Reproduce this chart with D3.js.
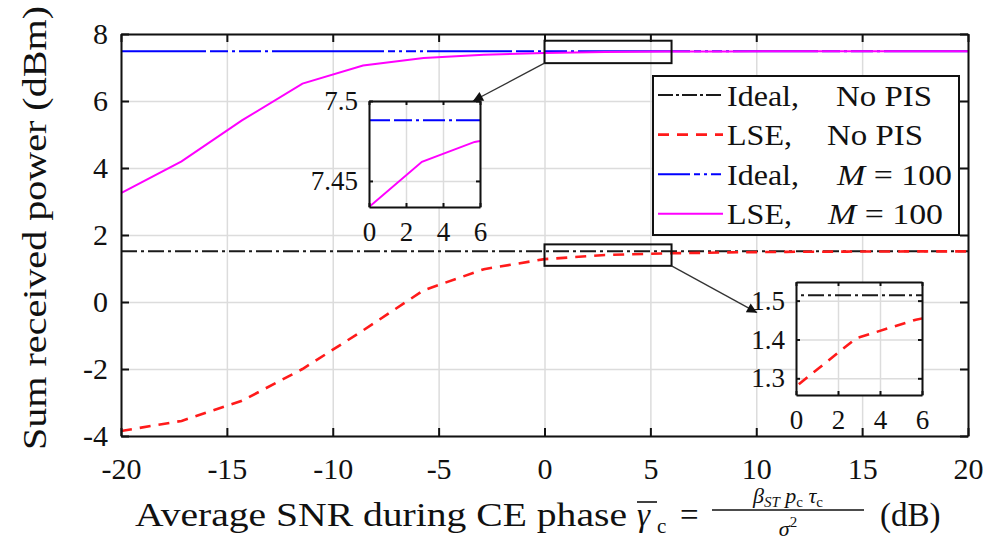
<!DOCTYPE html>
<html>
<head>
<meta charset="utf-8">
<script src="https://cdn.jsdelivr.net/npm/d3@7"></script>
<style>
  html, body { margin: 0; padding: 0; background: #fff; }
  svg { display: block; }
  text { font-family: "Liberation Serif", "DejaVu Serif", "Tinos", "Times New Roman", serif; fill: #111; }
</style>
</head>
<body>
<svg id="chart" width="992" height="541"></svg>
<script>
// SNR sweep points (dB)
const snr = [-20, -17.14, -14.29, -11.43, -8.57, -5.71, -2.86, 0, 2.86, 5.71, 8.57, 11.43, 14.29, 17.14, 20];
// Sum received power (dBm) for each scheme
const idealNoPIS = [1.514, 1.514, 1.514, 1.514, 1.514, 1.514, 1.514, 1.514, 1.514, 1.514, 1.514, 1.514, 1.514, 1.514, 1.514];
const lseNoPIS   = [-3.85, -3.55, -2.95, -2.0, -0.85, 0.35, 0.98, 1.279, 1.403, 1.451, 1.48, 1.497, 1.505, 1.51, 1.512];
const idealM100  = [7.488, 7.488, 7.488, 7.488, 7.488, 7.488, 7.488, 7.488, 7.488, 7.488, 7.488, 7.488, 7.488, 7.488, 7.488];
const lseM100    = [3.25, 4.2, 5.42, 6.52, 7.06, 7.28, 7.38, 7.4337, 7.462, 7.4744, 7.48, 7.484, 7.486, 7.487, 7.488];

// Axis ticks and labels
const xTicks = [-20, -15, -10, -5, 0, 5, 10, 15, 20];
const xTickLabels = ["-20", "-15", "-10", "-5", "0", "5", "10", "15", "20"];
const yTicks = [-4, -2, 0, 2, 4, 6, 8];
const yTickLabels = ["-4", "-2", "0", "2", "4", "6", "8"];

// Zoom insets
const insetXTicks = [0, 2, 4, 6];
const insetXTickLabels = ["0", "2", "4", "6"];
const insetTopYTicks = [7.45, 7.5];
const insetTopYTickLabels = ["7.45", "7.5"];
const insetBotYTicks = [1.3, 1.4, 1.5];
const insetBotYTickLabels = ["1.3", "1.4", "1.5"];

// Legend entries
const legendFirst = ["Ideal,", "LSE,", "Ideal,", "LSE,"];
const legendSecond = ["No PIS", "No PIS", "M = 100", "M = 100"];

const FONT = '"Liberation Serif", "DejaVu Serif", "Tinos", "Times New Roman", serif';
const svg = d3.select("#chart");

const series = [
  { values: idealNoPIS, color: "#1a1a1a", width: 2, dash: "16,4,3,4" },
  { values: lseNoPIS,   color: "#ff1a1a", width: 2.6, dash: "11,8" },
  { values: idealM100,  color: "#0000ff", width: 2, dash: "85,4,18,4,3,4,22,4,3,4,112,4,7,4,3,4,10,4,3,4" },
  { values: lseM100,    color: "#ff00ff", width: 2, dash: null }
];

// ---------- main axes ----------
const x = d3.scaleLinear().domain([-20, 20]).range([121, 968]);
const y = d3.scaleLinear().domain([-4, 8]).range([436, 34]);
const plotW = 968 - 121, plotH = 436 - 34;

const defs = svg.append("defs");
defs.append("clipPath").attr("id", "clipMain")
  .append("rect").attr("x", 121).attr("y", 34).attr("width", plotW).attr("height", plotH);
defs.append("marker").attr("id", "arrowHead")
  .attr("viewBox", "0 0 10 10").attr("refX", 10).attr("refY", 5)
  .attr("markerWidth", 16).attr("markerHeight", 10).attr("markerUnits", "userSpaceOnUse")
  .attr("orient", "auto")
  .append("path").attr("d", "M0,0 L10,5 L0,10 Z").attr("fill", "#111");

function styleGrid(g) {
  g.select(".domain").remove();
  g.selectAll(".tick line").attr("stroke", "#dcdcdc").attr("stroke-width", 1.5);
  g.selectAll(".tick text").remove();
}

// grid
svg.append("g").attr("transform", "translate(0,436)")
  .call(d3.axisBottom(x).tickValues(xTicks).tickSize(-plotH)).call(styleGrid);
svg.append("g").attr("transform", "translate(121,0)")
  .call(d3.axisLeft(y).tickValues(yTicks).tickSize(-plotW)).call(styleGrid);

// curves
const line = (sx, sy) => d3.line().x((d, i) => sx(snr[i])).y(d => sy(d));
const main = svg.append("g").attr("clip-path", "url(#clipMain)");
series.forEach(s => {
  main.append("path").datum(s.values)
    .attr("d", line(x, y))
    .attr("fill", "none").attr("stroke", s.color).attr("stroke-width", s.width)
    .attr("stroke-dasharray", s.dash);
});

// frame axes with inward ticks
function styleAxis(g, fs) {
  g.attr("font-family", FONT);
  g.select(".domain").attr("stroke", "#111").attr("stroke-width", 2);
  g.selectAll(".tick line").attr("stroke", "#111").attr("stroke-width", 2);
  g.selectAll(".tick text").attr("font-size", fs).attr("fill", "#111");
}
svg.append("g").attr("transform", "translate(0,436)")
  .call(d3.axisBottom(x).tickValues(xTicks).tickFormat((d, i) => xTickLabels[i])
    .tickSizeInner(-8).tickSizeOuter(0).tickPadding(22))
  .call(g => styleAxis(g, 30));
svg.append("g").attr("transform", "translate(121,0)")
  .call(d3.axisLeft(y).tickValues(yTicks).tickFormat((d, i) => yTickLabels[i])
    .tickSizeInner(-8).tickSizeOuter(0).tickPadding(13))
  .call(g => styleAxis(g, 30));
svg.append("g").attr("transform", "translate(0,34)")
  .call(d3.axisTop(x).tickValues(xTicks).tickFormat("").tickSizeInner(-8).tickSizeOuter(0))
  .call(g => styleAxis(g, 30));
svg.append("g").attr("transform", "translate(968,0)")
  .call(d3.axisRight(y).tickValues(yTicks).tickFormat("").tickSizeInner(-8).tickSizeOuter(0))
  .call(g => styleAxis(g, 30));

// zoom markers on the main plot
const zoomBoxes = [
  { x0: 0, x1: 6, y0: 7.13, y1: 7.8 },
  { x0: 0, x1: 6, y0: 1.08, y1: 1.72 }
];
zoomBoxes.forEach(b => {
  svg.append("rect")
    .attr("x", x(b.x0)).attr("y", y(b.y1))
    .attr("width", x(b.x1) - x(b.x0)).attr("height", y(b.y0) - y(b.y1))
    .attr("fill", "none").attr("stroke", "#111").attr("stroke-width", 2);
});

// ---------- insets ----------
function drawInset(id, xr, yr, ydom, yTv, yTl, which) {
  const sx = d3.scaleLinear().domain([0, 6]).range(xr);
  const sy = d3.scaleLinear().domain(ydom).range(yr);
  const w = xr[1] - xr[0], h = yr[0] - yr[1];
  defs.append("clipPath").attr("id", id)
    .append("rect").attr("x", xr[0]).attr("y", yr[1]).attr("width", w).attr("height", h);
  const g = svg.append("g");
  g.append("rect").attr("x", xr[0]).attr("y", yr[1]).attr("width", w).attr("height", h).attr("fill", "#fff");
  g.append("g").attr("transform", `translate(0,${yr[0]})`)
    .call(d3.axisBottom(sx).tickValues(insetXTicks).tickSize(-h)).call(styleGrid);
  g.append("g").attr("transform", `translate(${xr[0]},0)`)
    .call(d3.axisLeft(sy).tickValues(yTv).tickSize(-w)).call(styleGrid);
  const c = g.append("g").attr("clip-path", `url(#${id})`);
  which.forEach(s => {
    c.append("path").datum(s.values)
      .attr("d", line(sx, sy))
      .attr("fill", "none").attr("stroke", s.color).attr("stroke-width", s.width)
      .attr("stroke-dasharray", s.dash);
  });
  g.append("g").attr("transform", `translate(0,${yr[0]})`)
    .call(d3.axisBottom(sx).tickValues(insetXTicks).tickFormat((d, i) => insetXTickLabels[i])
      .tickSizeInner(-4).tickSizeOuter(0).tickPadding(15))
    .call(a => styleAxis(a, 27));
  g.append("g").attr("transform", `translate(${xr[0]},0)`)
    .call(d3.axisLeft(sy).tickValues(yTv).tickFormat((d, i) => yTl[i])
      .tickSizeInner(-4).tickSizeOuter(0).tickPadding(11))
    .call(a => styleAxis(a, 27));
  g.append("g").attr("transform", `translate(0,${yr[1]})`)
    .call(d3.axisTop(sx).tickValues(insetXTicks).tickFormat("").tickSizeInner(-4).tickSizeOuter(0))
    .call(a => styleAxis(a, 27));
  g.append("g").attr("transform", `translate(${xr[1]},0)`)
    .call(d3.axisRight(sy).tickValues(yTv).tickFormat("").tickSizeInner(-4).tickSizeOuter(0))
    .call(a => styleAxis(a, 27));
  return { sx, sy };
}

const insTop = drawInset("clipInsTop", [369, 480], [207, 101], [7.4337, 7.5],
  insetTopYTicks, insetTopYTickLabels, [series[2], series[3]]);
const insBot = drawInset("clipInsBot", [796, 922], [395, 282], [1.257, 1.548],
  insetBotYTicks, insetBotYTickLabels, [series[0], series[1]]);

// arrows from zoom markers to insets
svg.append("line")
  .attr("x1", x(zoomBoxes[0].x0)).attr("y1", y(zoomBoxes[0].y0))
  .attr("x2", insTop.sx(6) - 7).attr("y2", insTop.sy(7.5))
  .attr("stroke", "#333").attr("stroke-width", 1.3).attr("marker-end", "url(#arrowHead)");
svg.append("line")
  .attr("x1", x(zoomBoxes[1].x1)).attr("y1", y(zoomBoxes[1].y0))
  .attr("x2", insBot.sx(0) - 39).attr("y2", insBot.sy(1.5) + 12)
  .attr("stroke", "#333").attr("stroke-width", 1.3).attr("marker-end", "url(#arrowHead)");

// ---------- legend ----------
const lg = svg.append("g").attr("font-family", FONT);
lg.append("rect").attr("x", 653).attr("y", 76).attr("width", 306).attr("height", 159)
  .attr("fill", "#fff").attr("stroke", "#111").attr("stroke-width", 2);
// horizontal placement and width of each legend text piece
const firstLen = [72, 65, 72, 65];
const secondX = [836, 827, 837, 828];
const secondLen = [96, 96, 115, 115];
series.forEach((s, i) => {
  const ry = 95 + i * 39.6;
  lg.append("line").attr("x1", 658).attr("x2", 723).attr("y1", ry).attr("y2", ry)
    .attr("stroke", s.color).attr("stroke-width", s.width)
    .attr("stroke-dasharray", i === 0 ? "15,3,3,3" : i === 1 ? "11,8" : i === 2 ? "32,4,6,4,3,4,10" : null);
  lg.append("text").attr("x", 727).attr("y", ry).attr("dy", "0.35em")
    .attr("font-size", 30).attr("textLength", firstLen[i]).attr("lengthAdjust", "spacingAndGlyphs")
    .text(legendFirst[i]);
  const t = lg.append("text").attr("x", secondX[i]).attr("y", ry).attr("dy", "0.35em").attr("font-size", 30)
    .attr("textLength", secondLen[i]).attr("lengthAdjust", "spacingAndGlyphs");
  if (legendSecond[i].startsWith("M")) {
    t.append("tspan").attr("font-style", "italic").text("M");
    t.append("tspan").text(" = 100");
  } else {
    t.text(legendSecond[i]);
  }
});

// ---------- axis titles ----------
svg.append("text")
  .attr("transform", "translate(34,228) rotate(-90)")
  .attr("text-anchor", "middle").attr("dy", "0.35em")
  .attr("font-size", 33).attr("textLength", 444).attr("lengthAdjust", "spacingAndGlyphs")
  .text("Sum received power (dBm)");

const xl = svg.append("g");
xl.append("text").attr("x", 135).attr("y", 526).attr("font-size", 33)
  .attr("textLength", 492).attr("lengthAdjust", "spacingAndGlyphs")
  .text("Average SNR during CE phase");
xl.append("text").attr("x", 637).attr("y", 526).attr("font-size", 33).attr("font-style", "italic").text("γ");
xl.append("line").attr("x1", 637).attr("x2", 657).attr("y1", 502).attr("y2", 502)
  .attr("stroke", "#111").attr("stroke-width", 1.6);
xl.append("text").attr("x", 657).attr("y", 533).attr("font-size", 21).text("c");
xl.append("text").attr("x", 680).attr("y", 526).attr("font-size", 33).text("=");
xl.append("line").attr("x1", 712).attr("x2", 864).attr("y1", 510).attr("y2", 510)
  .attr("stroke", "#111").attr("stroke-width", 1.5);
const num = xl.append("text").attr("x", 788).attr("y", 503).attr("text-anchor", "middle").attr("font-size", 22);
num.append("tspan").attr("font-style", "italic").text("β");
num.append("tspan").attr("font-style", "italic").attr("font-size", 15).attr("dy", 4).text("ST");
num.append("tspan").attr("font-style", "italic").attr("dy", -4).text(" p");
num.append("tspan").attr("font-size", 15).attr("dy", 4).text("c");
num.append("tspan").attr("font-style", "italic").attr("dy", -4).text(" τ");
num.append("tspan").attr("font-size", 15).attr("dy", 4).text("c");
const den = xl.append("text").attr("x", 788).attr("y", 536).attr("text-anchor", "middle").attr("font-size", 22);
den.append("tspan").attr("font-style", "italic").text("σ");
den.append("tspan").attr("font-size", 15).attr("dy", -9).text("2");
xl.append("text").attr("x", 880).attr("y", 526).attr("font-size", 33).text("(dB)");
</script>
</body>
</html>
